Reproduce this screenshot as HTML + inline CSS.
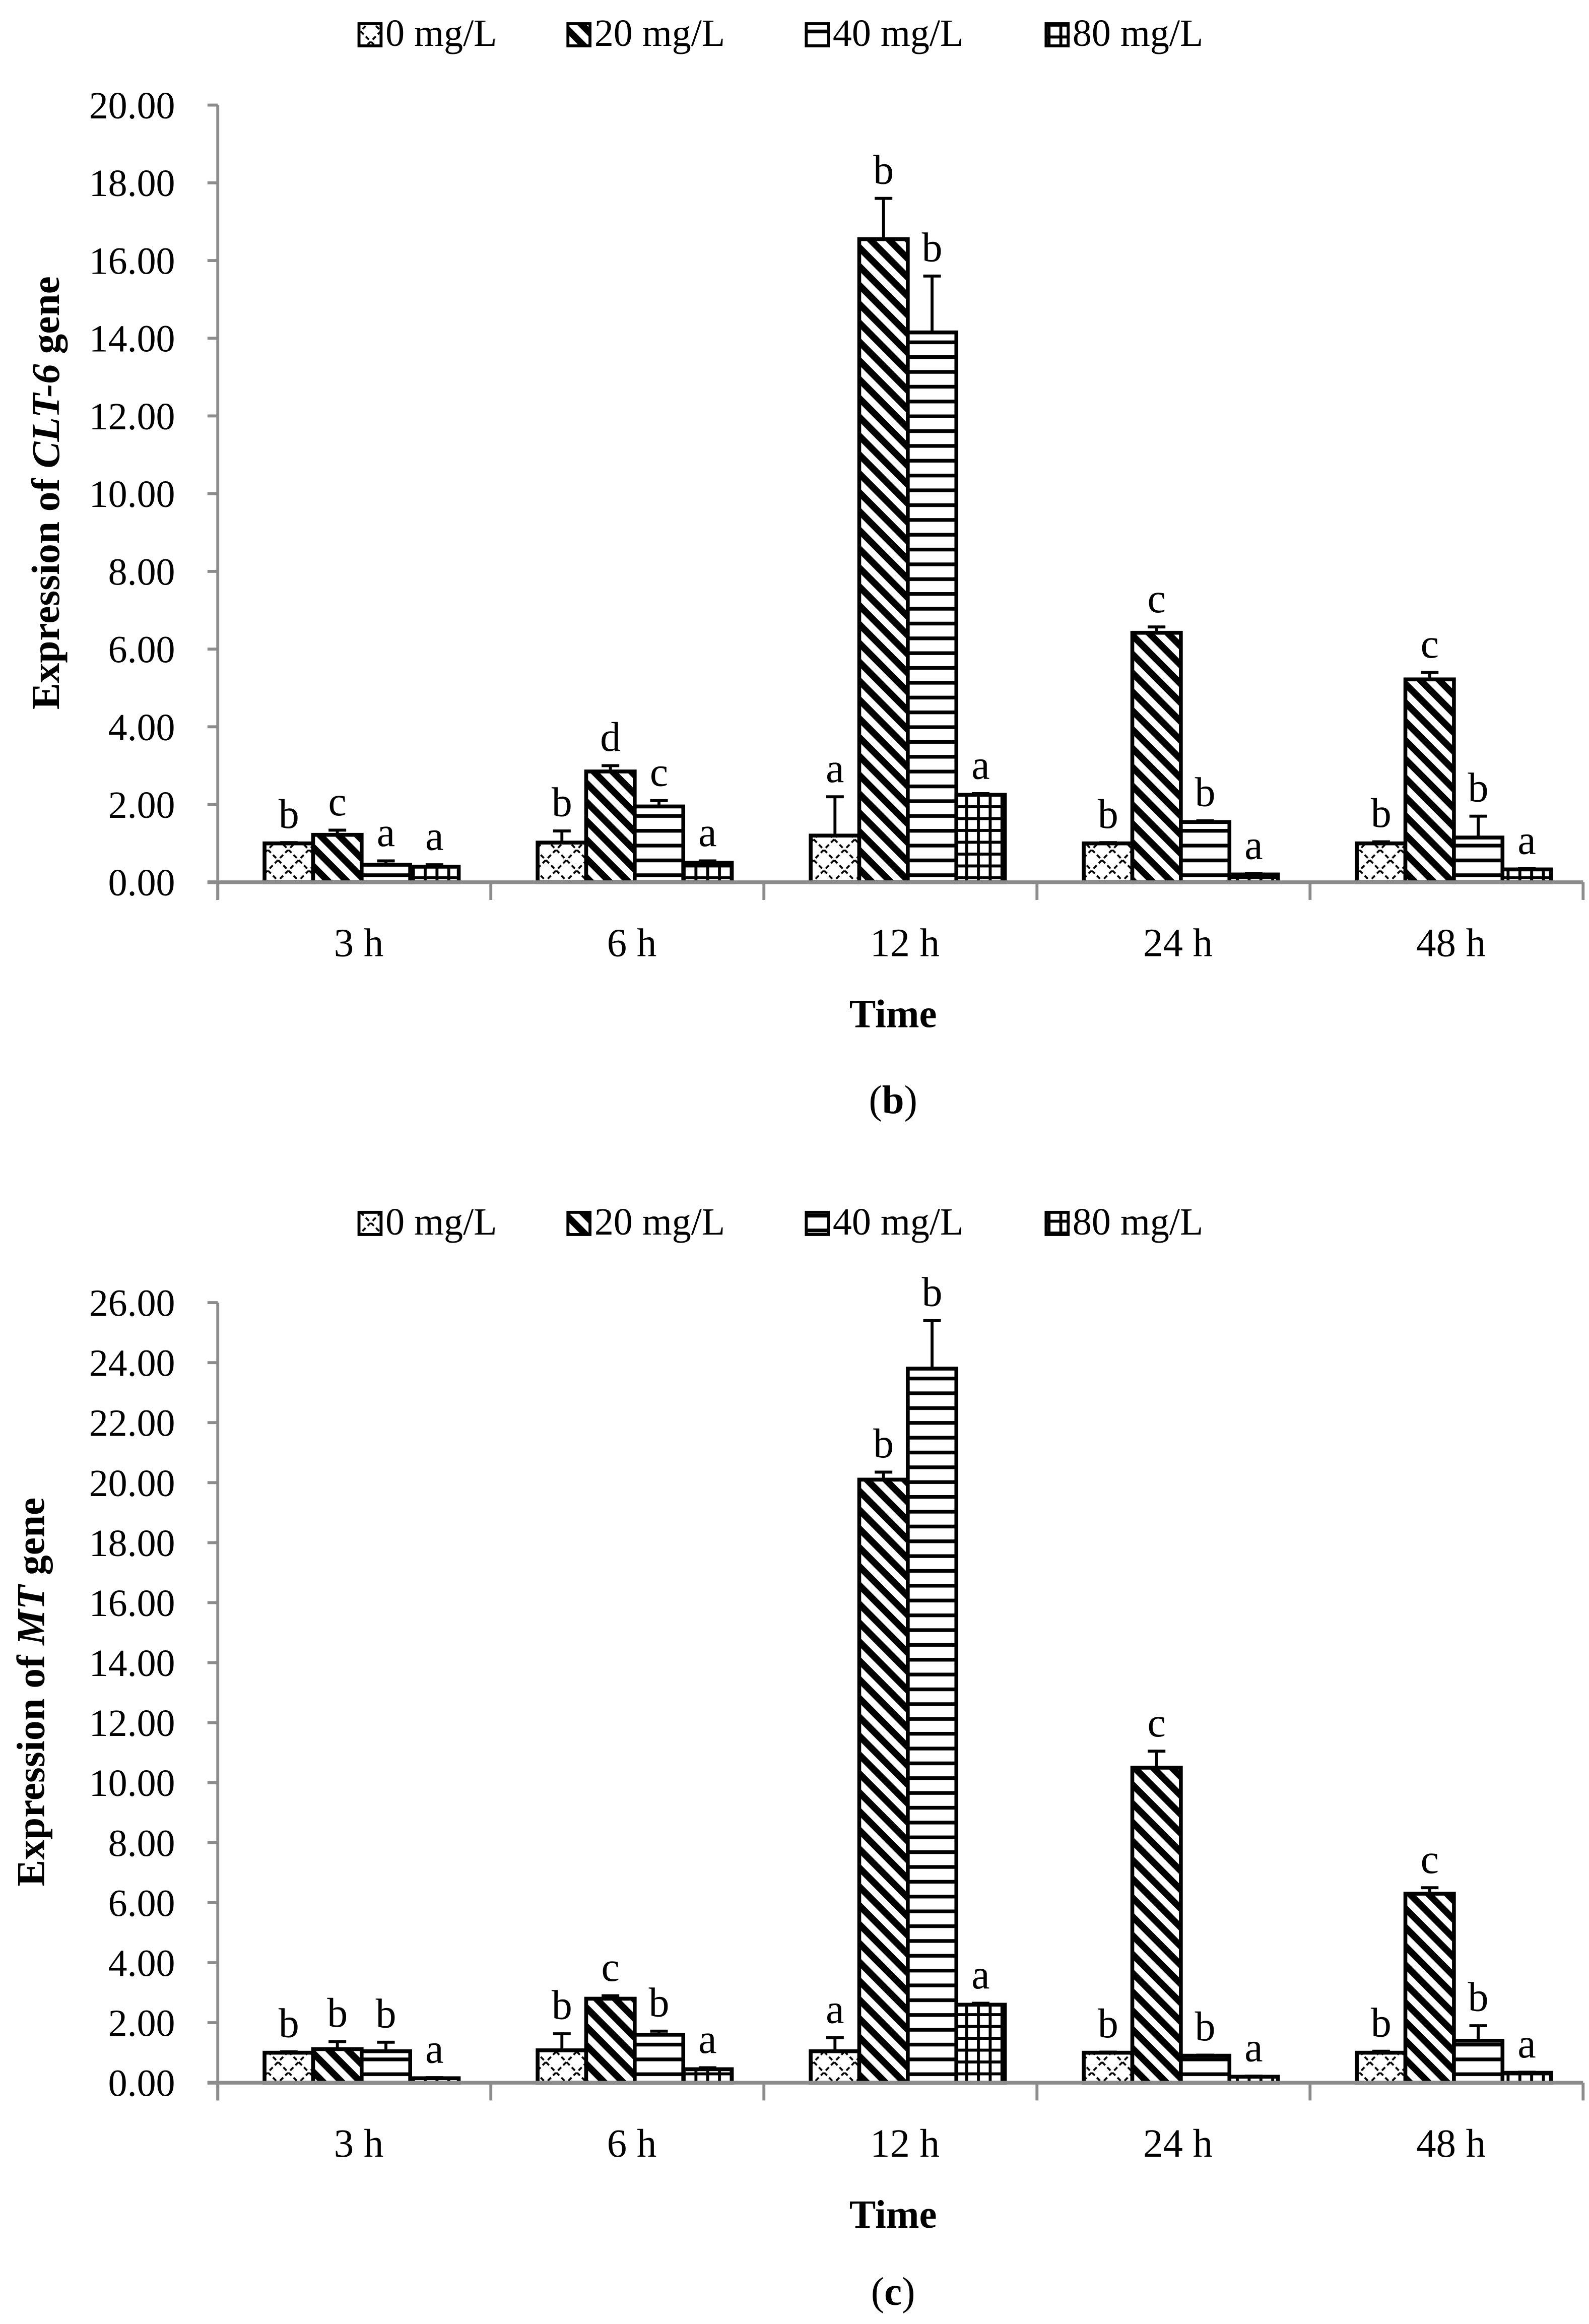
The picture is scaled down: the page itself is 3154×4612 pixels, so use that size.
<!DOCTYPE html>
<html><head><meta charset="utf-8">
<style>
html,body{margin:0;padding:0;background:#fff;}
svg{display:block;}
text{font-family:"Liberation Serif",serif;fill:#000;}
</style></head>
<body>
<svg id="fig" width="3154" height="4612" viewBox="0 0 1080 1570" preserveAspectRatio="none" xmlns="http://www.w3.org/2000/svg">
<defs>
<pattern id="p0" patternUnits="userSpaceOnUse" width="14" height="14">
<rect width="14" height="14" fill="#fff"/>
<path d="M0,0 L14,14 M14,0 L0,14" stroke="#000" stroke-width="1.3" stroke-dasharray="3,2"/>
</pattern>
<pattern id="p1" patternUnits="userSpaceOnUse" width="9" height="9" patternTransform="rotate(45)">
<rect width="9" height="9" fill="#fff"/>
<rect x="0" y="0" width="9" height="4.5" fill="#000"/>
</pattern>
<pattern id="p2" patternUnits="userSpaceOnUse" width="10" height="10">
<rect width="10" height="10" fill="#fff"/>
<rect x="0" y="0" width="10" height="2.5" fill="#000"/>
</pattern>
<pattern id="p3" patternUnits="userSpaceOnUse" width="8" height="8">
<rect width="8" height="8" fill="#fff"/>
<rect x="0" y="0" width="8" height="2" fill="#000"/>
<rect x="0" y="0" width="2" height="8" fill="#000"/>
</pattern>
</defs>
<g id="chartB"></g>
<g id="chartC"></g>
</svg>
<script>
const categories = ["3 h","6 h","12 h","24 h","48 h"];
const seriesNames = ["0 mg/L","20 mg/L","40 mg/L","80 mg/L"];
// CLT-6 (b)
const b0 = [1.0, 1.02, 1.2, 1.0, 1.0];
const b20 = [1.22, 2.85, 16.55, 6.42, 5.22];
const b40 = [0.45, 1.95, 14.15, 1.55, 1.15];
const b80 = [0.4, 0.5, 2.25, 0.2, 0.33];
const bErr0 = [0.02, 0.3, 1.0, 0.02, 0.04];
const bErr20 = [0.12, 0.15, 1.05, 0.15, 0.18];
const bErr40 = [0.1, 0.15, 1.45, 0.03, 0.55];
const bErr80 = [0.05, 0.05, 0.03, 0.02, 0.02];
const bLetters0 = ["b","b","a","b","b"];
const bLetters20 = ["c","d","b","c","c"];
const bLetters40 = ["a","c","b","b","b"];
const bLetters80 = ["a","a","a","a","a"];
const bTicks = ["0.00","2.00","4.00","6.00","8.00","10.00","12.00","14.00","16.00","18.00","20.00"];
// MT (c)
const c0 = [1.0, 1.08, 1.05, 1.0, 1.0];
const c20 = [1.12, 2.8, 20.1, 10.5, 6.3];
const c40 = [1.05, 1.6, 23.8, 0.9, 1.4];
const c80 = [0.15, 0.45, 2.6, 0.2, 0.33];
const cErr0 = [0.03, 0.55, 0.45, 0.02, 0.05];
const cErr20 = [0.25, 0.1, 0.25, 0.55, 0.2];
const cErr40 = [0.3, 0.12, 1.6, 0.02, 0.5];
const cErr80 = [0.02, 0.05, 0.05, 0.02, 0.02];
const cLetters0 = ["b","b","a","b","b"];
const cLetters20 = ["b","c","b","c","c"];
const cLetters40 = ["b","b","b","b","b"];
const cLetters80 = ["a","a","a","a","a"];
const cTicks = ["0.00","2.00","4.00","6.00","8.00","10.00","12.00","14.00","16.00","18.00","20.00","22.00","24.00","26.00"];

const NS="http://www.w3.org/2000/svg";
function mk(parent,tag,attrs,txt){const e=document.createElementNS(NS,tag);for(const k in attrs)e.setAttribute(k,attrs[k]);if(txt!==undefined)e.textContent=txt;parent.appendChild(e);return e;}

function drawChart(g,cfg){
  const x0=148,x1=1076,y0=cfg.y0,yTop=cfg.yTop,maxV=cfg.max;
  const yS=v=>y0-(v/maxV)*(y0-yTop);
  const cw=(x1-x0)/categories.length;
  const bw=33;
  const lg=mk(g,'g',{});
  
  
  const lx=[244,386,548,711];
  seriesNames.forEach((s,i)=>{
    const it=mk(lg,'g',{});
    
    
    mk(it,'rect',{x:lx[i],y:cfg.legY-14,width:15,height:15,fill:'url(#p'+i+')',stroke:'#000','stroke-width':2});
    mk(it,'text',{x:lx[i]+18,y:cfg.legY+1,'font-size':26},s);
  });
  cfg.ticks.forEach((t,i)=>{
    const v=parseFloat(t);const y=yS(v);
    const l=mk(g,'line',{x1:x0-7,y1:y,x2:x0,y2:y,stroke:'#8c8c8c','stroke-width':2});
    
    
    const tx=mk(g,'text',{x:119,y:y+9,'font-size':26,'text-anchor':'end'},t);
    
    
  });
  const ya=mk(g,'line',{x1:x0,y1:yTop,x2:x0,y2:y0+12,stroke:'#8c8c8c','stroke-width':2});
  
  
  categories.forEach((c,ci)=>{
    const gx=x0+ci*cw+(cw-4*bw)/2+5;
    cfg.series.forEach((arr,si)=>{
      const v=arr[ci],e=cfg.errs[si][ci];
      const bx=gx+si*bw, by=yS(v);
      const r=mk(g,'rect',{x:bx,y:by,width:bw,height:y0-by,fill:'url(#p'+si+')',stroke:'#000','stroke-width':2.6});
      
      
      const ey=yS(v+e);
      const el=mk(g,'path',{d:`M${bx+bw/2},${by} V${ey} M${bx+bw/2-6},${ey} H${bx+bw/2+6}`,stroke:'#000','stroke-width':2,fill:'none'});
      
      
      const lt=mk(g,'text',{x:bx+bw/2,y:ey-10,'font-size':28,'text-anchor':'middle'},cfg.letters[si][ci]);
      
      
    });
    const cl=mk(g,'text',{x:x0+ci*cw+cw/2+3,y:y0+50,'font-size':27,'text-anchor':'middle'},c);
    
    
  });
  for(let i=0;i<=categories.length;i++){
    const x=x0+i*cw;
    const tk=mk(g,'line',{x1:x,y1:y0,x2:x,y2:y0+12,stroke:'#8c8c8c','stroke-width':2});
    
    
  }
  const xa=mk(g,'line',{x1:x0-7,y1:y0,x2:x1,y2:y0,stroke:'#8c8c8c','stroke-width':2.5});
  
  
  const xt=mk(g,'text',{x:607,y:y0+98,'font-size':27,'font-weight':'bold','text-anchor':'middle'},'Time');
  
  
  const yt=mk(g,'text',{x:0,y:0,'font-size':27,'font-weight':'bold','text-anchor':'middle',transform:`translate(${cfg.ytX},${cfg.ytY}) rotate(-90)`});
  
  
  mk(yt,'tspan',{},'Expression of ');
  mk(yt,'tspan',{'font-style':'italic'},cfg.gene);
  mk(yt,'tspan',{},' gene');
  const pl=mk(g,'text',{x:607,y:cfg.panelY,'font-size':27,'text-anchor':'middle'});
  
  
  mk(pl,'tspan',{},'(');
  mk(pl,'tspan',{'font-weight':'bold'},cfg.panel);
  mk(pl,'tspan',{},')');
}
drawChart(document.getElementById('chartB'),{y0:596,yTop:71,max:20,legY:30,ticks:bTicks,
  series:[b0,b20,b40,b80],errs:[bErr0,bErr20,bErr40,bErr80],letters:[bLetters0,bLetters20,bLetters40,bLetters80],
  ytX:40,ytY:333,gene:'CLT-6',panel:'b',panelY:752});
drawChart(document.getElementById('chartC'),{y0:1407,yTop:880,max:26,legY:833,ticks:cTicks,
  series:[c0,c20,c40,c80],errs:[cErr0,cErr20,cErr40,cErr80],letters:[cLetters0,cLetters20,cLetters40,cLetters80],
  ytX:30,ytY:1143,gene:'MT',panel:'c',panelY:1557});
</script>
</body></html>
